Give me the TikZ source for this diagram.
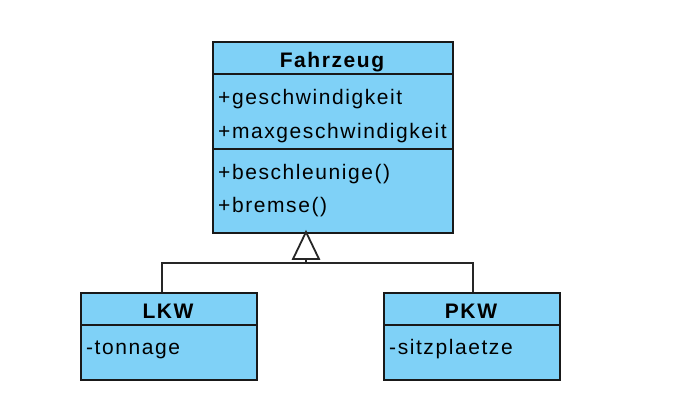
\documentclass[tikz,border=0pt]{standalone}
\usepackage{fontspec}
\setmainfont{Liberation Sans}[LetterSpace=7.5]
\usetikzlibrary{calc}
\definecolor{umlblue}{RGB}{127,209,247}
\begin{document}
\begin{tikzpicture}[x=1pt,y=-1pt,
  cls/.style={draw=black!90, line width=2pt, fill=umlblue, inner sep=0pt, anchor=north west},
  sep/.style={line width=1.8pt, draw=black!90},
  conn/.style={line width=1.8pt, draw=black!85},
  txt/.style={anchor=base west, inner sep=0pt, font=\fontsize{21}{24}\selectfont},
  ttl/.style={anchor=base, inner sep=0pt, font=\fontsize{21}{24}\selectfont\bfseries}]
\fill[white] (0,0) rectangle (693,418);
\useasboundingbox (0,0) rectangle (693,418);
% classes
\node[cls, minimum width=240pt, minimum height=191pt] (fz) at (212,41) {};
\node[cls, minimum width=176pt, minimum height=87pt] (lkw) at (80,292) {};
\node[cls, minimum width=176pt, minimum height=87pt] (pkw) at (383,292) {};
% separators
\draw[sep] ($(fz.north west)+(0,33)$) -- ($(fz.north east)+(0,33)$);
\draw[sep] ($(fz.north west)+(0,108)$) -- ($(fz.north east)+(0,108)$);
\draw[sep] ($(lkw.north west)+(0,33)$) -- ($(lkw.north east)+(0,33)$);
\draw[sep] ($(pkw.north west)+(0,33)$) -- ($(pkw.north east)+(0,33)$);
% texts
\node[ttl] (fzt) at (332,67) {Fahrzeug};
\node[txt] (a1) at (218,104) {+geschwindigkeit};
\node[txt] (a2) at (218,138) {+maxgeschwindigkeit};
\node[txt] (m1) at (218,179) {+beschleunige()};
\node[txt] (m2) at (218,212) {+bremse()};
\node[ttl] (lkwt) at (168,318) {LKW};
\node[txt] (la) at (86,354) {-tonnage};
\node[ttl] (pkwt) at (471,318) {PKW};
\node[txt] (pa) at (389,354) {-sitzplaetze};
% generalization
\coordinate (apex) at (306,232);
\coordinate (tribase) at (306,259);
\coordinate (j) at (306,263);
\coordinate (lkwtop) at (162,292);
\coordinate (pkwtop) at (473,292);
\draw[conn] (lkwtop) |- (j) -| (pkwtop);
\draw[conn] (tribase) -- (j);
\draw[conn, fill=white, line join=miter] (apex) -- ($(apex)+(-13,27)$) -- ($(apex)+(13,27)$) -- cycle;
\end{tikzpicture}
\end{document}
